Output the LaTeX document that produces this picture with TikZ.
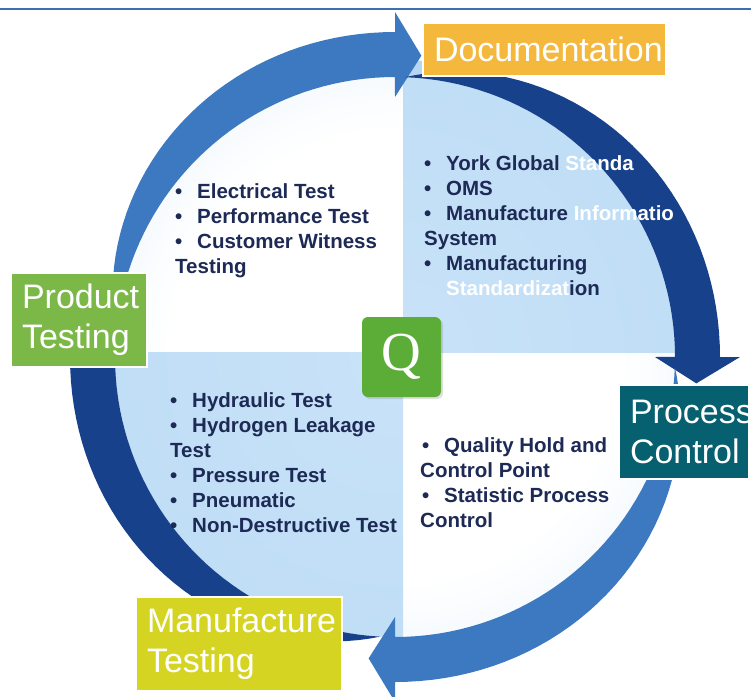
\documentclass[tikz,border=0pt]{standalone}
\usepackage{fontspec}
\setmainfont{Liberation Sans}
\newfontfamily\qfont{Liberation Serif}
\usetikzlibrary{shadows}

\definecolor{ringmid}{HTML}{3D79C1}
\definecolor{ringdark}{HTML}{17418A}
\definecolor{docorange}{HTML}{F3B83C}
\definecolor{prodgreen}{HTML}{7CB847}
\definecolor{procteal}{HTML}{07606F}
\definecolor{manuyellow}{HTML}{D6D422}
\definecolor{qgreen}{HTML}{5CAD38}
\definecolor{bodynavy}{HTML}{1D2A55}
\definecolor{rulebl}{HTML}{3C70B0}
\definecolor{paleedge}{HTML}{D0E6F9}
\definecolor{quadmid}{HTML}{C9E3F8}
\definecolor{quadedge}{HTML}{A4CDF1}

% quarter fills of the centre disk
\pgfdeclareradialshading{palequad}{\pgfpoint{0bp}{0bp}}{%
  color(0bp)=(white); color(20bp)=(white); color(50bp)=(paleedge)}
\pgfdeclareradialshading{bluequad}{\pgfpoint{0bp}{0bp}}{%
  color(0bp)=(quadmid); color(25bp)=(quadmid!75!quadedge); color(50bp)=(quadedge)}

\newcommand{\ringin}{280}
\newcommand{\bul}{\makebox[22pt][l]{\textbullet}}
% tapered arrow round the disk: colour, tail angle, head angle
\newcommand{\cyclearrow}[3]{%
  \fill[#1] plot[variable=\t, domain=0:1, samples=41]
      ({#2+\t*(#3-#2)}:\ringin)
    -- ({#3}:{\ringin-20}) -- ({#3+5}:{\ringin+22.5})
    -- ({#3}:{\ringin+65}) -- ({#3}:{\ringin+45})
    -- plot[variable=\t, domain=0:1, samples=41]
      ({#3-\t*(#3-#2)}:{\ringin+45*(1-\t*\t*sqrt(\t))}) -- cycle;}

\begin{document}
\begin{tikzpicture}[x=1pt, y=-1pt,
    bodytext/.style={anchor=north west, inner sep=0pt, align=left,
      text=bodynavy, font=\fontsize{20.5}{25}\selectfont\bfseries},
    stagebox/.style={draw=white, line width=1.5pt, text=white, align=left,
      inner xsep=11pt, inner ysep=0pt, minimum height=94pt,
      font=\fontsize{34}{40}\selectfont},
    qbox/.style={fill=qgreen, rounded corners=6pt, minimum width=79pt,
      minimum height=80pt, text=white, inner sep=0pt,
      font=\qfont\fontsize{55}{55}\selectfont,
      drop shadow={opacity=0.25, shadow xshift=2pt, shadow yshift=-2pt}}
  ]
  \useasboundingbox (0,0) rectangle (751,696);
  \fill[white] (0,0) rectangle (751,696);
  \draw[rulebl, line width=1.5pt] (0,9) -- (751,9);

  \coordinate (ring) at (395,357);
  \coordinate (split) at (403,352);

  % centre disk
  \begin{scope}
    \clip (ring) circle[radius=280pt];
    \shade[shading=palequad] (ring) circle[radius=280pt];
    \begin{scope}
      \clip (split) rectangle (700,50);
      \shade[shading=bluequad] (ring) circle[radius=280pt];
    \end{scope}
    \begin{scope}
      \clip (split) rectangle (100,660);
      \shade[shading=bluequad] (ring) circle[radius=280pt];
    \end{scope}
  \end{scope}

  % the four arrows of the cycle
  \begin{scope}[shift={(ring)}]
    % light rim under the dark arrow
    \fill[quadedge!80] plot[variable=\t, domain=0:1, samples=31]
        ({272+\t*58}:\ringin)
      -- plot[variable=\t, domain=0:1, samples=31]
        ({330-\t*58}:{\ringin+6+12*\t}) -- cycle;
    \cyclearrow{ringmid}{185}{270}
    \cyclearrow{ringdark}{272}{360}
    \cyclearrow{ringmid}{2}{90}
    \cyclearrow{ringdark}{93}{180}
  \end{scope}

  \node[bodytext] (testlist) at (175,180.5) {%
    \strut\bul Electrical Test\\
    \strut\bul Performance Test\\
    \strut\bul Customer Witness\\
    \strut Testing};

  \node[bodytext] (doclist) at (424,152.5) {%
    \strut\bul York Global \textcolor{white}{Standa}\\
    \strut\bul OMS\\
    \strut\bul Manufacture \textcolor{white}{Informatio}\\
    \strut System\\
    \strut\bul Manufacturing\\
    \strut\hspace*{22pt}\textcolor{white}{Standardizat}ion};

  \node[bodytext] (mfglist) at (170,389.5) {%
    \strut\bul Hydraulic Test\\
    \strut\bul Hydrogen Leakage\\
    \strut Test\\
    \strut\bul Pressure Test\\
    \strut\bul Pneumatic\\
    \strut\bul Non-Destructive Test};

  \node[bodytext] (proclist) at (420,434.5) {%
    \strut\hspace*{2pt}\bul Quality Hold and\\
    \strut Control Point\\
    \strut\hspace*{2pt}\bul Statistic Process\\
    \strut Control};

  \node[qbox] (q) at (401.5,357) {Q};

  % stage labels
  \node[stagebox, fill=docorange, minimum height=53pt, text width=221pt]
    (doc) at (544.5,49.5) {Documentation};
  \node[stagebox, fill=prodgreen, text width=114pt] (prod) at (79,320)
    {Product\\Testing};
  \node[stagebox, fill=procteal, text width=108pt] (proc) at (684,432)
    {Process\\Control};
  \node[stagebox, fill=manuyellow, text width=184pt] (manu) at (239,644)
    {Manufacture\\Testing};
\end{tikzpicture}
\end{document}
